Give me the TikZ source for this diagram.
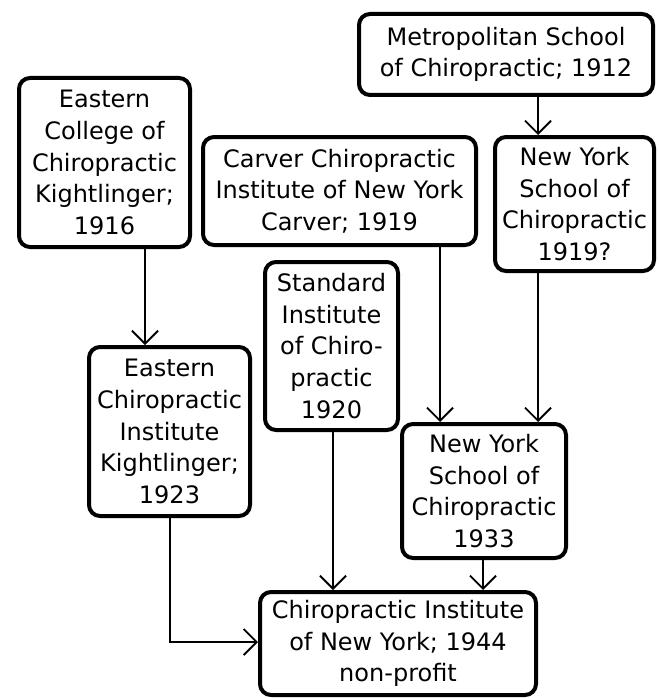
\documentclass[tikz,border=0pt]{standalone}
\usepackage{fontspec}
\setmainfont{DejaVu Sans}
\usetikzlibrary{arrows.meta}
\begin{document}
\begin{tikzpicture}[x=1pt,y=-1pt,
  box/.style={draw=black,line width=4pt,rounded corners=11pt,fill=white,
    align=center,inner sep=0pt,
    font=\fontsize{24}{31.7}\selectfont},
  arr/.style={line width=1.7pt,-{Straight Barb[length=13pt,width=26pt,line width=1.9pt]}}]
\useasboundingbox (0,0) rectangle (658,698);
\node[box,minimum width=294pt,minimum height=81pt] (metro) at (506,54.5) {Metropolitan School\\of Chiropractic; 1912};
\node[box,minimum width=171pt,minimum height=169pt] (ecc) at (104.5,162.5) {Eastern\\College of\\Chiropractic\\Kightlinger;\\1916};
\node[box,minimum width=273pt,minimum height=108pt] (carver) at (339.5,191) {Carver Chiropractic\\Institute of New York\\Carver; 1919};
\node[box,minimum width=159pt,minimum height=134pt] (nys19) at (574.5,204) {New York\\School of\\Chiropractic\\1919?};
\node[box,minimum width=133pt,minimum height=168pt] (std) at (331.5,346) {Standard\\Institute\\of Chiro-\\practic\\1920};
\node[box,minimum width=161pt,minimum height=169pt] (eci) at (169.5,431.5) {Eastern\\Chiropractic\\Institute\\Kightlinger;\\1923};
\node[box,minimum width=164pt,minimum height=134pt] (nys33) at (484,491) {New York\\School of\\Chiropractic\\1933};
\node[box,minimum width=276pt,minimum height=103pt] (ciny) at (398,643.5) {Chiropractic Institute\\of New York; 1944\\non-profit};
\coordinate (xa) at (538,0);
\coordinate (xb) at (145,0);
\coordinate (xc) at (440,0);
\coordinate (xd) at (333,0);
\coordinate (xe) at (483,0);
\coordinate (xf) at (170,0);
\coordinate (yb) at (0,642);
\draw[arr] (metro.south -| xa) -- (nys19.north -| xa);
\draw[arr] (ecc.south -| xb) -- (eci.north -| xb);
\draw[arr] (carver.south -| xc) -- (nys33.north -| xc);
\draw[arr] (nys19.south -| xa) -- (nys33.north -| xa);
\draw[arr] (std.south -| xd) -- (ciny.north -| xd);
\draw[arr] (nys33.south -| xe) -- (ciny.north -| xe);
\draw[arr] (eci.south -| xf) |- (ciny.west |- yb);
\end{tikzpicture}
\end{document}
